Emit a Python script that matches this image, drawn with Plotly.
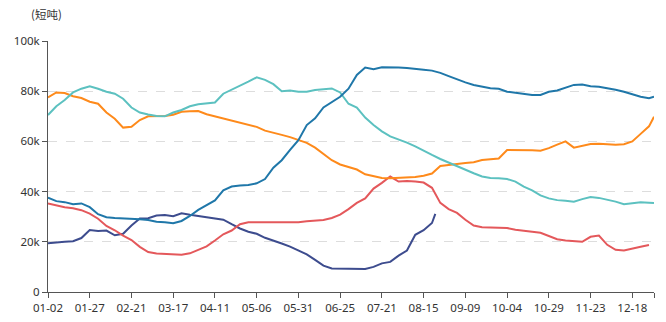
import datetime as dt
import plotly.graph_objects as go

# ---- categories: daily dates (leap year), one day missing in early July ----
start = dt.date(2024, 1, 2)
end = dt.date(2024, 12, 31)
missing = {"07-04"}
all_dates = []
d = start
while d <= end:
    s = d.strftime("%m-%d")
    if s not in missing:
        all_dates.append(s)
    d += dt.timedelta(days=1)

sample_dates = all_dates[::5] + [all_dates[-1]]
tick_labels = ["01-02", "01-27", "02-21", "03-17", "04-11", "05-06", "05-31", "06-25",
               "07-21", "08-15", "09-09", "10-04", "10-29", "11-23", "12-18"]

# ---- series values (k short tons), read every 5 days ----
teal = [70.5, 74, 76.5, 79.5, 81, 82, 81, 79.8, 79, 77, 73.5, 71.5, 70.7, 70.1, 70, 71.5,
        72.5, 74, 74.8, 75, 75.5, 79, 80.5, 82, 83.8, 85.5, 84.5, 82.8, 80, 80.3, 79.8, 79.8,
        80.5, 80.8, 81.1, 79.5, 75, 73.5, 69.5, 66.5, 64, 62, 60.8, 59.5, 58, 56.2, 54.6, 53,
        51.5, 50, 48.5, 47.3, 46, 45.4, 45.3, 45, 44, 42, 40.5, 38.5, 37.3, 36.6, 36.4, 36,
        37, 37.8, 37.5, 36.8, 36, 35, 35.5, 35.8, 35.6, 35.5]
blue = [37.6, 36.2, 35.8, 35, 35.3, 33.8, 31, 29.8, 29.5, 29.4, 29.3, 29, 28.7, 28, 27.8,
        27.4, 28.3, 30.3, 32.7, 34.5, 36.5, 40.5, 42, 42.4, 42.6, 43.3, 45, 49.5, 52.5, 56.6,
        60.5, 66.5, 69.2, 73.5, 75.8, 77.8, 81, 86.5, 89.4, 88.8, 89.5, 89.5, 89.4, 89.2,
        88.7, 88.5, 88.2, 87.3, 86, 84.6, 83.5, 82.5, 81.8, 81.2, 81, 79.8, 79.4, 78.8, 78.5,
        78.5, 79.8, 80.3, 81.3, 82.5, 82.7, 82, 81.8, 81.3, 80.6, 79.8, 78.8, 77.8, 77.2, 77.8]
orange = [77.5, 79.5, 79.3, 78, 77.3, 75.8, 75, 71.5, 69, 65.5, 65.8, 68.5, 70, 70.1, 70.1,
          70.6, 71.8, 72, 72.1, 70.8, 70, 69.2, 68.3, 67.4, 66.8, 65.8, 64.3, 63.3, 62.6,
          61.7, 60.6, 59.4, 57.5, 55, 52.5, 50.8, 49.8, 48.8, 46.9, 46, 45.4, 45.3, 45.4,
          45.5, 45.8, 46.3, 47.2, 50.2, 50.7, 51, 51.4, 51.7, 52.6, 52.8, 53.2, 56.6, 56.6,
          56.6, 56.5, 56.3, 57.3, 58.7, 60, 57.5, 58.4, 59, 59.1, 58.9, 58.7, 58.9, 60, 63,
          66, 69.8]
red = [35.3, 34.5, 33.8, 33.4, 32.6, 31.2, 29.2, 26.3, 24.6, 22.5, 20.7, 18, 15.9, 15.3,
       15.1, 15.1, 14.8, 15.4, 16.7, 18.2, 20.5, 23, 24.5, 27, 27.8, 27.8, 27.8, 27.8, 27.8,
       27.8, 27.8, 28.2, 28.4, 28.7, 29.5, 30.8, 33, 35.5, 37.3, 41.2, 43.5, 46, 44, 44.2,
       44, 43.6, 41.5, 35.5, 33, 31.5, 28.8, 26.5, 25.8, 25.6, 25.6, 25.5, 24.8, 24.3, 24,
       23.6, 22.4, 21, 20.5, 20.4, 20, 22, 22.5, 18.8, 16.8, 16.5, 17.4, 18, 18.7]
navy = [19.4, 19.8, 20, 20.2, 21.5, 24.7, 24.3, 24.5, 22.6, 23.2, 26.5, 29.3, 29.4, 30.5,
        30.7, 30.2, 31.4, 30.8, 30.3, 29.9, 29.4, 28.8, 27, 25.3, 24, 23.2, 21.6, 20.3, 19.3,
        18.1, 16.7, 15, 12.8, 10.5, 9.4, 9.3, 9.2, 9.2, 9.2, 10, 11.4, 12, 14.5, 16.5, 22.8,
        24.6, 27.5, 31.1]
navy_dates = sample_dates[:47] + [all_dates[232]]

y_ticks = [0, 20, 40, 60, 80, 100]
y_tick_text = ["0", "20k", "40k", "60k", "80k", "100k"]

series = [
    (navy_dates, navy, "#3d4c8e"),
    (sample_dates[:len(red)], red, "#e4585b"),
    (sample_dates[:len(orange)], orange, "#fe8a1b"),
    (sample_dates[:len(teal)], teal, "#5cc1c0"),
    (sample_dates[:len(blue)], blue, "#1f77a9"),
]

fig = go.Figure()
for xs, ys, col in series:
    fig.add_trace(go.Scatter(x=xs, y=[v * 1000 for v in ys], mode="lines",
                             line=dict(color=col, width=2), showlegend=False,
                             hoverinfo="skip"))

font = dict(family="Noto Sans, Noto Sans CJK SC, sans-serif", size=11.5, color="#333333")
fig.update_layout(
    width=666, height=322,
    margin=dict(l=48, r=12, t=41, b=30),
    paper_bgcolor="white", plot_bgcolor="white",
    font=font,
    xaxis=dict(
        type="category", categoryorder="array", categoryarray=all_dates,
        range=[0, len(all_dates) - 1], automargin=False,
        tickmode="array", tickvals=tick_labels + [all_dates[-1]],
        ticktext=tick_labels + [""],
        showline=True, linecolor="#555555", linewidth=1,
        ticks="outside", ticklen=5, tickcolor="#555555",
        showgrid=False, zeroline=False, tickfont=font,
    ),
    yaxis=dict(
        range=[0, 100000], automargin=False,
        tickmode="array", tickvals=[v * 1000 for v in y_ticks], ticktext=y_tick_text,
        showline=True, linecolor="#555555", linewidth=1,
        ticks="outside", ticklen=5, tickcolor="#555555",
        showgrid=True, gridcolor="#dddddd", griddash="dash", gridwidth=1,
        zeroline=False, tickfont=font,
    ),
    annotations=[dict(text="(短吨)", xref="paper", yref="paper", x=-0.002, y=1.108,
                      xanchor="center", yanchor="middle", showarrow=False,
                      font=dict(family="Noto Sans CJK SC, sans-serif", size=11.5,
                                color="#333333"))],
)

fig.write_html("out.html")
